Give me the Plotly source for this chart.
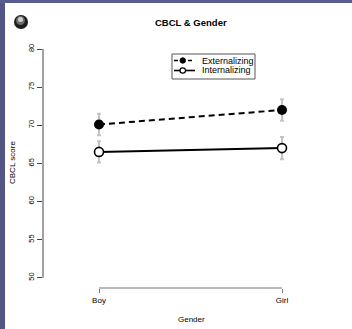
import plotly.graph_objects as go

# ---- data ----
genders = ["Boy", "Girl"]
external_mean = [70.1, 72.0]
external_err = [1.4, 1.4]
internal_mean = [66.5, 67.0]
internal_err = [1.4, 1.45]
y_ticks = [50, 55, 60, 65, 70, 75, 80]

W, H = 352, 329
L, R, T, B = 43, 14, 40, 41
PW, PH = W - L - R, H - T - B


def xp(px):
    return (px - L) / PW


def yp(py):
    return (H - B - py) / PH


xs = list(range(len(genders)))
FONT = "Liberation Sans, Arial, sans-serif"

fig = go.Figure()
fig.add_trace(go.Scatter(
    x=xs, y=internal_mean, mode="lines+markers", name="Internalizing",
    line=dict(color="black", width=2),
    marker=dict(symbol="circle", size=9, color="white", line=dict(color="black", width=1.6)),
    error_y=dict(type="data", array=internal_err, color="#c4c4c4", thickness=2, width=2),
    showlegend=False,
))
fig.add_trace(go.Scatter(
    x=xs, y=external_mean, mode="lines+markers", name="Externalizing",
    line=dict(color="black", width=2, dash="6px,4px"),
    marker=dict(symbol="circle", size=10, color="black"),
    error_y=dict(type="data", array=external_err, color="#c4c4c4", thickness=2, width=2),
    showlegend=False,
))

shapes = []
# slide background strips
shapes.append(dict(type="rect", xref="paper", yref="paper", x0=xp(0), x1=xp(5), y0=yp(H), y1=yp(0),
                   fillcolor="#535584", line=dict(width=0), layer="above"))
shapes.append(dict(type="rect", xref="paper", yref="paper", x0=xp(0), x1=xp(W), y0=yp(3), y1=yp(0),
                   fillcolor="#5a5c8c", line=dict(width=0), layer="above"))
# sphere icon
shapes.append(dict(type="circle", xref="paper", yref="paper", x0=xp(14), x1=xp(28), y0=yp(29), y1=yp(15),
                   fillcolor="#1c1c1c", line=dict(width=0)))
shapes.append(dict(type="circle", xref="paper", yref="paper", x0=xp(16), x1=xp(25), y0=yp(25), y1=yp(16),
                   fillcolor="#6a6a6a", line=dict(width=0)))
shapes.append(dict(type="circle", xref="paper", yref="paper", x0=xp(18), x1=xp(23), y0=yp(22), y1=yp(17),
                   fillcolor="#cfcfcf", line=dict(width=0)))
# axis lines (R style, spanning first to last tick)
shapes.append(dict(type="line", xref="paper", yref="y", x0=0, x1=0, y0=min(y_ticks), y1=max(y_ticks),
                   line=dict(color="#444", width=1)))
shapes.append(dict(type="line", xref="x", yref="paper", x0=xs[0], x1=xs[-1], y0=0, y1=0,
                   line=dict(color="#777", width=1)))
# legend box
shapes.append(dict(type="rect", xref="paper", yref="paper", x0=xp(172), x1=xp(255), y0=yp(79), y1=yp(54),
                   line=dict(color="#555", width=1), fillcolor="white"))
# legend samples
shapes.append(dict(type="line", xref="paper", yref="paper", x0=xp(174), x1=xp(195), y0=yp(60.5), y1=yp(60.5),
                   line=dict(color="black", width=1.6, dash="4px,3px")))
shapes.append(dict(type="circle", xref="paper", yref="paper", x0=xp(180), x1=xp(185.5), y0=yp(63.2), y1=yp(57.8),
                   fillcolor="black", line=dict(color="black", width=1)))
shapes.append(dict(type="line", xref="paper", yref="paper", x0=xp(174), x1=xp(195), y0=yp(70.5), y1=yp(70.5),
                   line=dict(color="black", width=1.6)))
shapes.append(dict(type="circle", xref="paper", yref="paper", x0=xp(180), x1=xp(185.5), y0=yp(73.2), y1=yp(67.8),
                   fillcolor="white", line=dict(color="black", width=1.2)))

annotations = [
    dict(text="<b>CBCL &amp; Gender</b>", x=xp(191), y=yp(22), xref="paper", yref="paper",
         showarrow=False, font=dict(size=9.5, family=FONT, color="black"), xanchor="center", yanchor="middle"),
    dict(text="CBCL score", x=xp(12), y=yp(163), xref="paper", yref="paper", textangle=-90,
         showarrow=False, font=dict(size=8, family=FONT, color="black"), xanchor="center", yanchor="middle"),
    dict(text="Gender", x=xp(191), y=yp(319), xref="paper", yref="paper",
         showarrow=False, font=dict(size=8, family=FONT, color="black"), xanchor="center", yanchor="middle"),
    dict(text="Externalizing", x=xp(200), y=yp(60.5), xref="paper", yref="paper",
         showarrow=False, font=dict(size=9, family=FONT, color="black"), xanchor="left", yanchor="middle"),
    dict(text="Internalizing", x=xp(200), y=yp(70.5), xref="paper", yref="paper",
         showarrow=False, font=dict(size=9, family=FONT, color="black"), xanchor="left", yanchor="middle"),
]

fig.update_layout(
    width=W, height=H,
    margin=dict(l=L, r=R, t=T, b=B, pad=0),
    paper_bgcolor="white", plot_bgcolor="white",
    font=dict(family=FONT, color="black", size=8),
    shapes=shapes, annotations=annotations,
    xaxis=dict(range=[-0.306, 1.306], tickmode="array", tickvals=xs, ticktext=genders,
               showgrid=False, zeroline=False, showline=False,
               ticks="outside", ticklen=4, tickcolor="#777", tickfont=dict(size=8)),
    yaxis=dict(range=[48.65, 81.18], tickmode="array", tickvals=y_ticks,
               showgrid=False, zeroline=False, showline=False,
               ticks="outside", ticklen=5, tickcolor="#444", tickangle=-90, tickfont=dict(size=7.5)),
)

fig.write_html("out.html", config={"displayModeBar": False},
               post_script="document.body.style.margin='0';document.body.style.overflow='hidden';")
